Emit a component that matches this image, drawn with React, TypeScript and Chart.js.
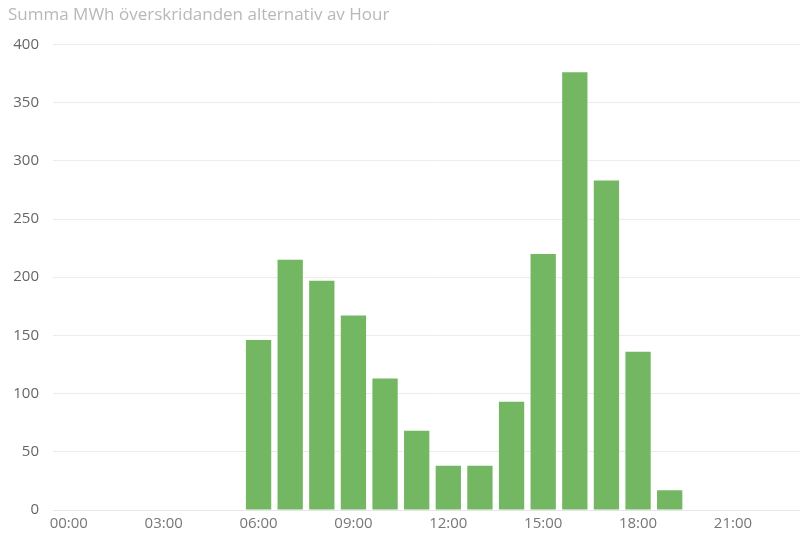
import React, { useEffect, useRef } from "react";
import { Chart, registerables } from "chart.js";

Chart.register(...registerables);

const hours: string[] = [
  "00:00", "01:00", "02:00", "03:00", "04:00", "05:00", "06:00", "07:00",
  "08:00", "09:00", "10:00", "11:00", "12:00", "13:00", "14:00", "15:00",
  "16:00", "17:00", "18:00", "19:00", "20:00", "21:00", "22:00", "23:00",
];

const mwh: (number | null)[] = [
  null, null, null, null, null, null, 146, 215,
  197, 167, 113, 68, 38, 38, 93, 220,
  376, 283, 136, 17, null, null, null, null,
];

const titleText = "Summa MWh överskridanden alternativ av Hour";
const yTicks: number[] = [0, 50, 100, 150, 200, 250, 300, 350, 400];

export default function App() {
  const ref = useRef<HTMLCanvasElement | null>(null);

  useEffect(() => {
    document.body.style.margin = "0";
    document.body.style.overflow = "hidden";
    const ctx = ref.current;
    if (!ctx) return;
    const chart = new Chart(ctx, {
      type: "bar",
      data: {
        labels: hours,
        datasets: [
          {
            data: mwh,
            backgroundColor: "#74B762",
            borderWidth: 0,
            barPercentage: 0.8,
            categoryPercentage: 1.0,
          },
        ],
      },
      options: {
        animation: false,
        responsive: false,
        maintainAspectRatio: false,
        layout: { padding: { left: 8, right: 0, top: 0, bottom: 0 } },
        plugins: {
          legend: { display: false },
          tooltip: { enabled: false },
          title: {
            display: true,
            text: titleText,
            align: "start",
            color: "#b8b8b8",
            font: { family: "'Open Sans', sans-serif", size: 17, weight: "normal" },
            padding: { top: 5, bottom: 19 },
          },
        },
        scales: {
          x: {
            grid: { display: false, drawTicks: false },
            border: { display: true, color: "#e6e6e6", width: 1 },
            ticks: {
              autoSkip: false,
              maxRotation: 0,
              color: "#777777",
              padding: 5,
              font: { family: "'Open Sans', sans-serif", size: 15 },
              callback: (_v: any, i: number) => (i % 3 === 0 ? hours[i] : ""),
            },
            afterFit: (s: any) => {
              s.height = 24;
            },
          },
          y: {
            min: 0,
            max: 400,
            afterBuildTicks: (s: any) => {
              s.ticks = yTicks.map((v) => ({ value: v }));
            },
            grid: { color: "#ececec", drawTicks: false, lineWidth: 1 },
            border: { display: false },
            ticks: {
              color: "#666666",
              padding: 14,
              font: { family: "'Open Sans', sans-serif", size: 15 },
            },
            afterFit: (s: any) => {
              s.width = 45;
            },
          },
        },
      },
    });
    return () => chart.destroy();
  }, []);

  return (
    <div style={{ position: "fixed", left: 0, top: 0, width: 812, height: 534, overflow: "hidden" }}>
      <canvas ref={ref} width={812} height={534} style={{ width: 812, height: 534, display: "block" }} />
    </div>
  );
}
